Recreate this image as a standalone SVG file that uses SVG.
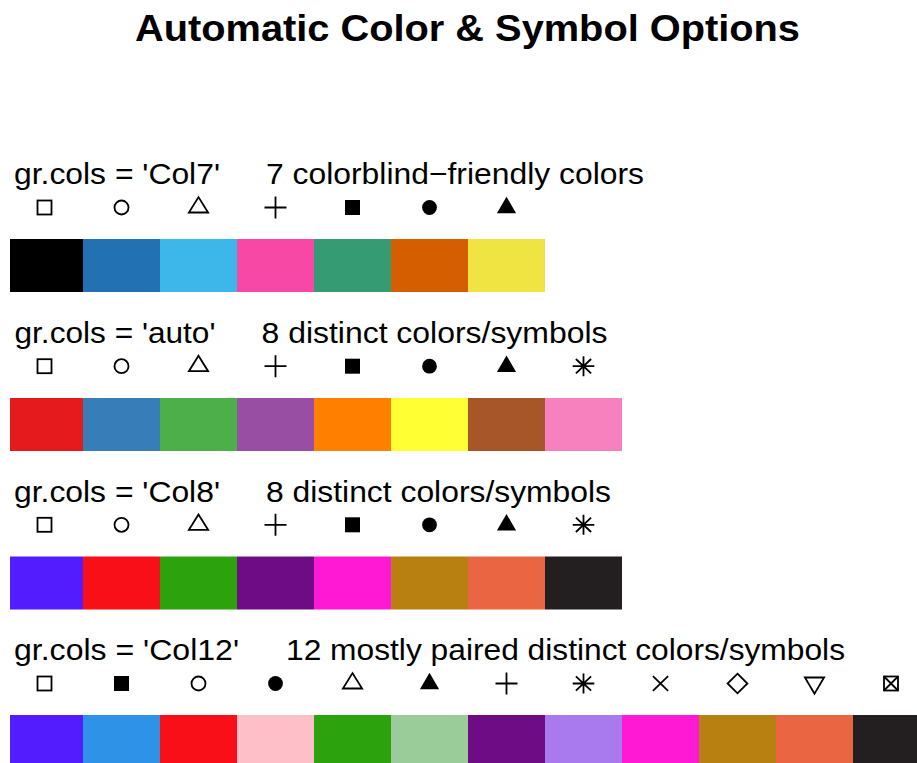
<svg xmlns="http://www.w3.org/2000/svg" xmlns:xlink="http://www.w3.org/1999/xlink" width="917" height="763" viewBox="0 0 917 763">
<style>
text{font-family:"Liberation Sans",Arial,Helvetica,sans-serif;fill:#000}
.t{font-size:30px}
.title{font-size:37px;font-weight:bold}
.o{fill:none;stroke:#000;stroke-width:1.8}
.f{fill:#000;stroke:none}
</style>
<defs>
<rect id="osq" class="o" x="-7" y="-7" width="14" height="14"/>
<circle id="ocirc" class="o" r="7"/>
<polygon id="otri" class="o" points="-9.6,5 9.6,5 0,-10.4"/>
<path id="plus" class="o" d="M-11,0H11M0,-11V11"/>
<rect id="fsq" class="f" x="-7.5" y="-7.5" width="15" height="15"/>
<circle id="fcirc" class="f" r="7.4"/>
<polygon id="ftri" class="f" points="-9.6,5.8 9.6,5.8 0,-10.8"/>
<path id="ast" class="o" d="M-10.8,0H10.8M0,-10V10M-7.6,-7.2L7.6,7.2M-7.6,7.2L7.6,-7.2"/>
<path id="xx" class="o" d="M-7.6,-7.3L7.6,7.3M-7.6,7.3L7.6,-7.3"/>
<polygon id="dia" class="o" points="0,-9.8 9.9,0 0,9.8 -9.9,0"/>
<polygon id="dtri" class="o" points="-9.6,-6 9.6,-6 0,10.2"/>
<g id="boxx"><rect class="o" x="-7" y="-7" width="14" height="14"/><path class="o" d="M-7,-7L7,7M-7,7L7,-7"/></g>
</defs>

<g id="title"><text class="title" x="135" y="41" textLength="665" lengthAdjust="spacingAndGlyphs">Automatic Color &amp; Symbol Options</text></g>

<g id="row-col7">
<text class="t" x="14" y="184.3" textLength="206" lengthAdjust="spacingAndGlyphs">gr.cols = 'Col7'</text>
<text class="t" x="266" y="184.3" textLength="378" lengthAdjust="spacingAndGlyphs">7 colorblind−friendly colors</text>
<use href="#osq" x="44.5" y="207.5"/>
<use href="#ocirc" x="121.5" y="207.5"/>
<use href="#otri" x="198.5" y="207.5"/>
<use href="#plus" x="275.5" y="207.5"/>
<use href="#fsq" x="352.5" y="207.5"/>
<use href="#fcirc" x="429.5" y="207.5"/>
<use href="#ftri" x="506.5" y="207.5"/>
<rect x="10" y="239" width="73" height="53" fill="#000000"/>
<rect x="83" y="239" width="77" height="53" fill="#2271B2"/>
<rect x="160" y="239" width="77" height="53" fill="#3DB7E9"/>
<rect x="237" y="239" width="77" height="53" fill="#F748A5"/>
<rect x="314" y="239" width="77" height="53" fill="#359B73"/>
<rect x="391" y="239" width="77" height="53" fill="#D55E00"/>
<rect x="468" y="239" width="77" height="53" fill="#F0E442"/>
</g>

<g id="row-auto">
<text class="t" x="14.5" y="343" textLength="201" lengthAdjust="spacingAndGlyphs">gr.cols = 'auto'</text>
<text class="t" x="261.5" y="343" textLength="346" lengthAdjust="spacingAndGlyphs">8 distinct colors/symbols</text>
<use href="#osq" x="44.5" y="366.2"/>
<use href="#ocirc" x="121.5" y="366.2"/>
<use href="#otri" x="198.5" y="366.2"/>
<use href="#plus" x="275.5" y="366.2"/>
<use href="#fsq" x="352.5" y="366.2"/>
<use href="#fcirc" x="429.5" y="366.2"/>
<use href="#ftri" x="506.5" y="366.2"/>
<use href="#ast" x="583.5" y="366.2"/>
<rect x="10" y="398" width="73" height="53" fill="#E41A1C"/>
<rect x="83" y="398" width="77" height="53" fill="#377EB8"/>
<rect x="160" y="398" width="77" height="53" fill="#4DAF4A"/>
<rect x="237" y="398" width="77" height="53" fill="#984EA3"/>
<rect x="314" y="398" width="77" height="53" fill="#FF7F00"/>
<rect x="391" y="398" width="77" height="53" fill="#FFFF33"/>
<rect x="468" y="398" width="77" height="53" fill="#A65628"/>
<rect x="545" y="398" width="77" height="53" fill="#F781BF"/>
</g>

<g id="row-col8">
<text class="t" x="14" y="501.7" textLength="206" lengthAdjust="spacingAndGlyphs">gr.cols = 'Col8'</text>
<text class="t" x="266" y="501.7" textLength="345" lengthAdjust="spacingAndGlyphs">8 distinct colors/symbols</text>
<use href="#osq" x="44.5" y="524.8"/>
<use href="#ocirc" x="121.5" y="524.8"/>
<use href="#otri" x="198.5" y="524.8"/>
<use href="#plus" x="275.5" y="524.8"/>
<use href="#fsq" x="352.5" y="524.8"/>
<use href="#fcirc" x="429.5" y="524.8"/>
<use href="#ftri" x="506.5" y="524.8"/>
<use href="#ast" x="583.5" y="524.8"/>
<rect x="10" y="556.5" width="73" height="53" fill="#531CFF"/>
<rect x="83" y="556.5" width="77" height="53" fill="#F90F17"/>
<rect x="160" y="556.5" width="77" height="53" fill="#2CA30D"/>
<rect x="237" y="556.5" width="77" height="53" fill="#6E0C85"/>
<rect x="314" y="556.5" width="77" height="53" fill="#FF19D5"/>
<rect x="391" y="556.5" width="77" height="53" fill="#B88010"/>
<rect x="468" y="556.5" width="77" height="53" fill="#EA6542"/>
<rect x="545" y="556.5" width="77" height="53" fill="#231F20"/>
</g>

<g id="row-col12">
<text class="t" x="14" y="660.3" textLength="225" lengthAdjust="spacingAndGlyphs">gr.cols = 'Col12'</text>
<text class="t" x="286" y="660.3" textLength="559" lengthAdjust="spacingAndGlyphs">12 mostly paired distinct colors/symbols</text>
<use href="#osq" x="44.5" y="683.5"/>
<use href="#fsq" x="121.5" y="683.5"/>
<use href="#ocirc" x="198.5" y="683.5"/>
<use href="#fcirc" x="275.5" y="683.5"/>
<use href="#otri" x="352.5" y="683.5"/>
<use href="#ftri" x="429.5" y="683.5"/>
<use href="#plus" x="506.5" y="683.5"/>
<use href="#ast" x="583.5" y="683.5"/>
<use href="#xx" x="660.5" y="683.5"/>
<use href="#dia" x="737.5" y="683.5"/>
<use href="#dtri" x="814.5" y="683.5"/>
<use href="#boxx" x="891" y="683.5"/>
<rect x="10" y="715" width="73" height="48" fill="#531CFF"/>
<rect x="83" y="715" width="77" height="48" fill="#2E93E6"/>
<rect x="160" y="715" width="77" height="48" fill="#F90F17"/>
<rect x="237" y="715" width="77" height="48" fill="#FFBFC9"/>
<rect x="314" y="715" width="77" height="48" fill="#2CA30D"/>
<rect x="391" y="715" width="77" height="48" fill="#99CC99"/>
<rect x="468" y="715" width="77" height="48" fill="#6E0C85"/>
<rect x="545" y="715" width="77" height="48" fill="#A87AEE"/>
<rect x="622" y="715" width="77" height="48" fill="#FF19D5"/>
<rect x="699" y="715" width="77" height="48" fill="#B88010"/>
<rect x="776" y="715" width="77" height="48" fill="#EA6542"/>
<rect x="853" y="715" width="64" height="48" fill="#231F20"/>
</g>
</svg>
